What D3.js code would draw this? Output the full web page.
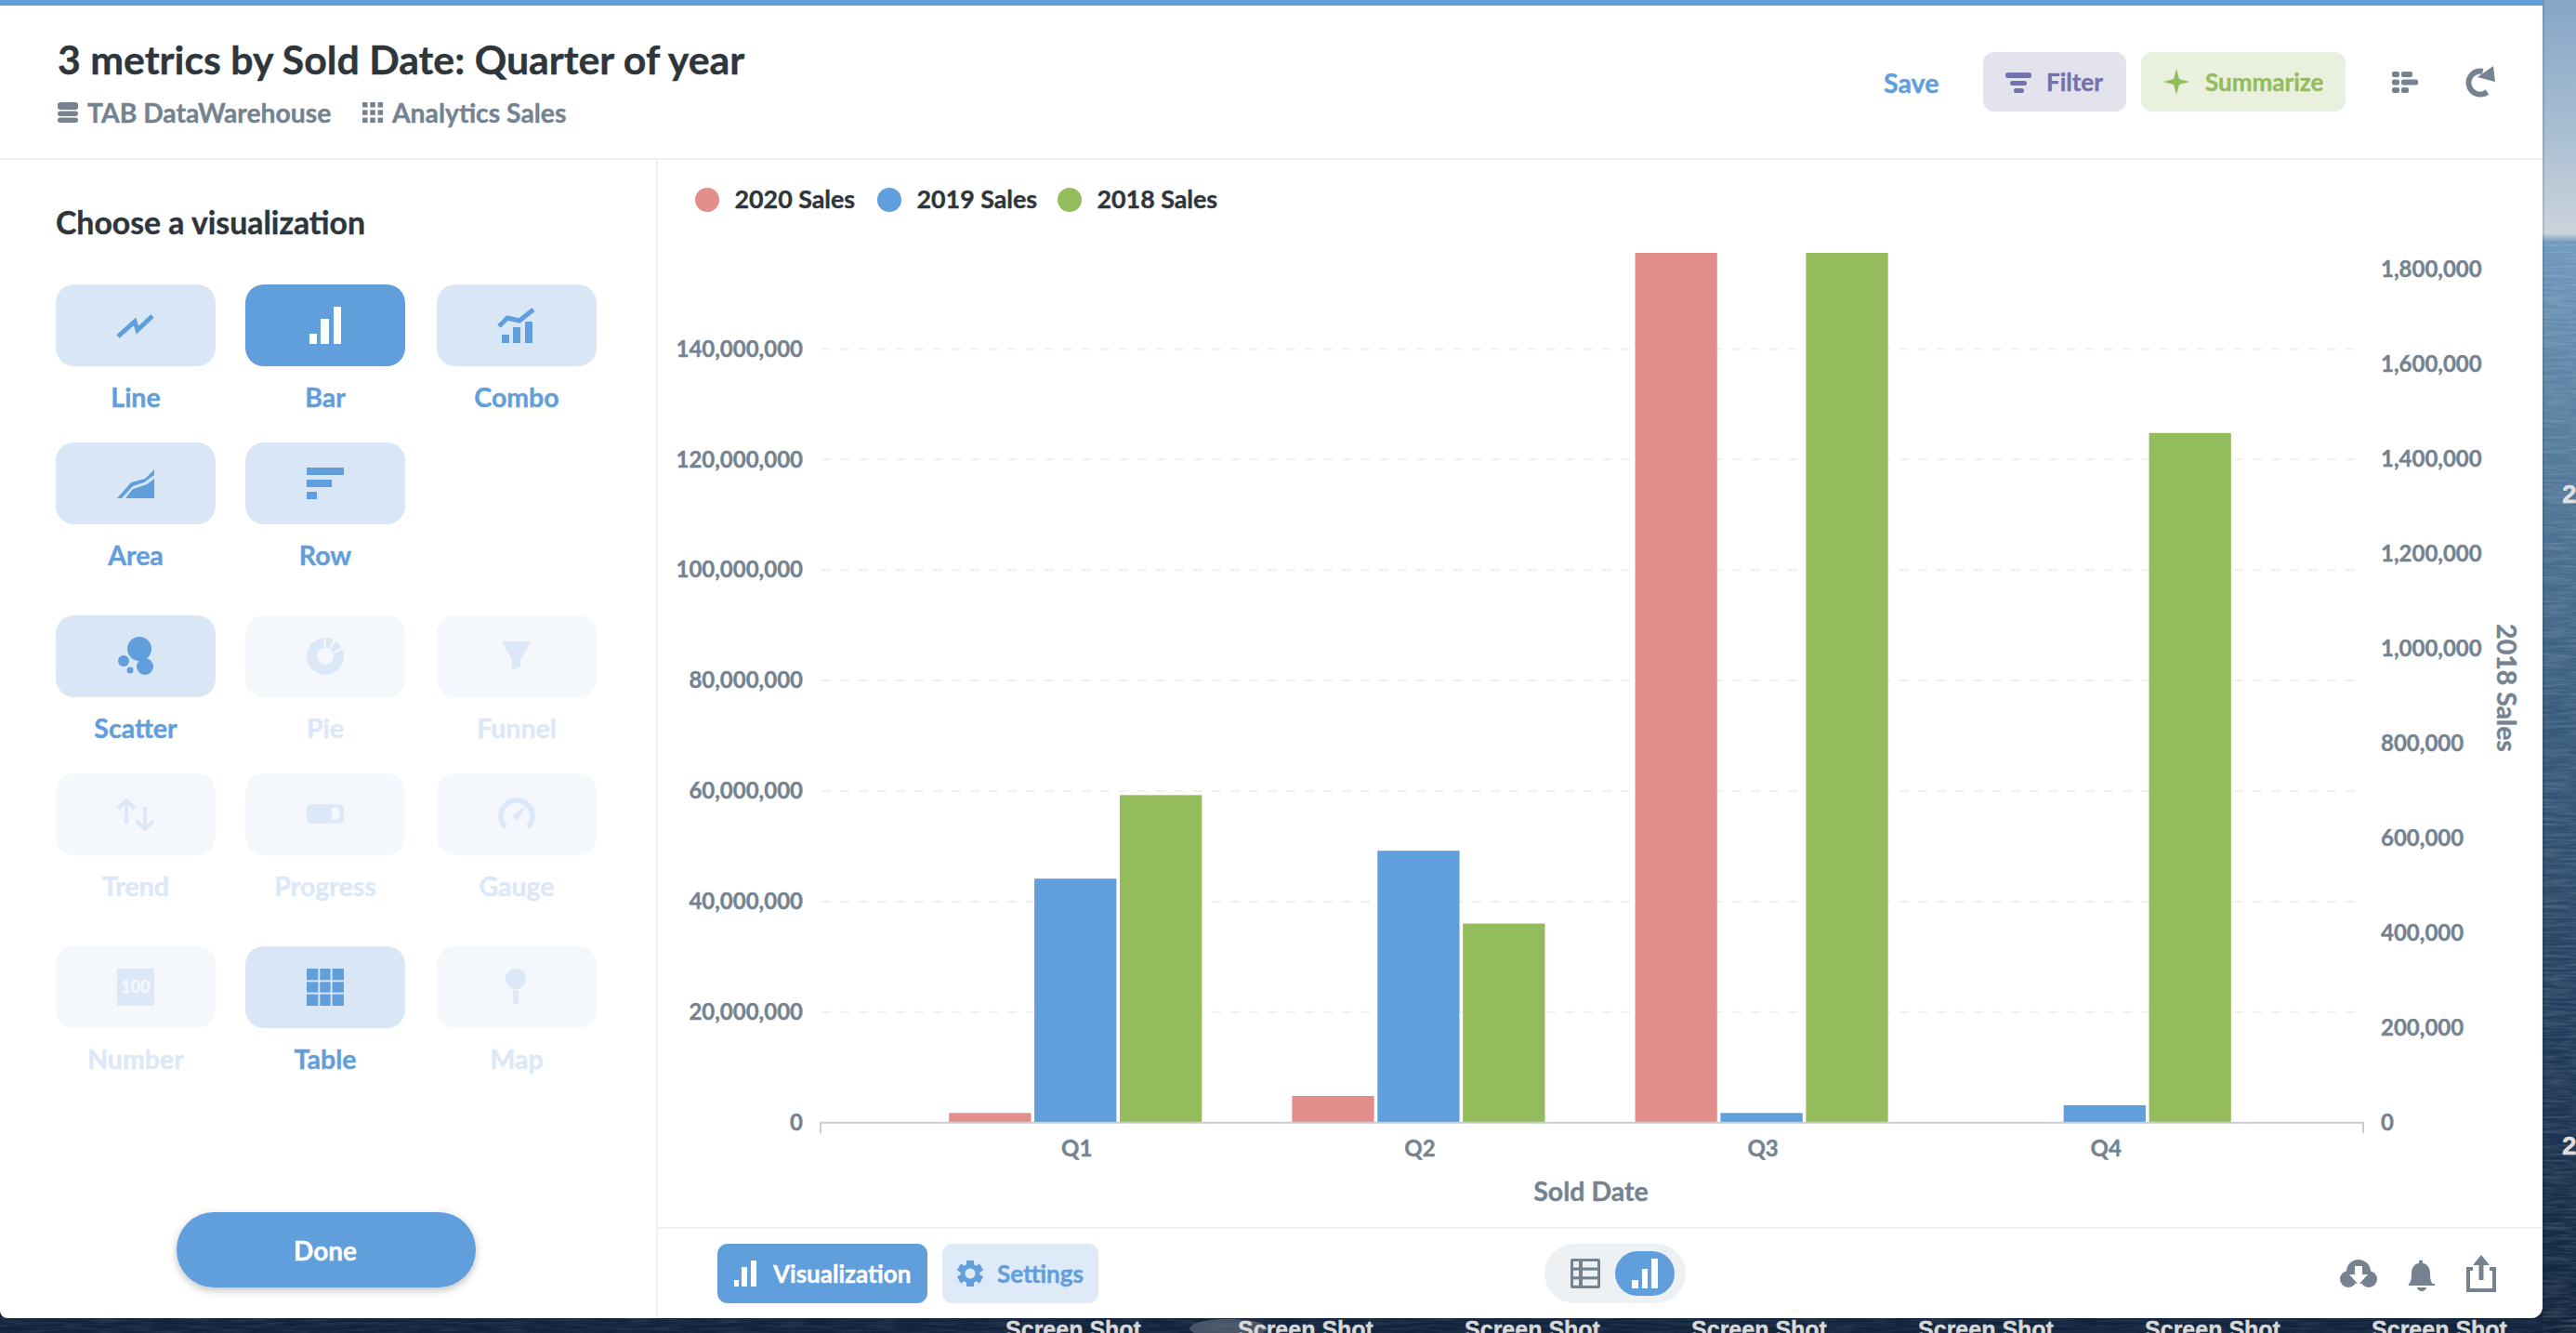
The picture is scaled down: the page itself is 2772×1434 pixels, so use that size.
<!DOCTYPE html>
<html>
<head>
<meta charset="utf-8">
<script src="https://cdn.jsdelivr.net/npm/d3@7"></script>
<style>
html, body { margin: 0; padding: 0; background: #13263c; overflow: hidden; }
svg { display: block; }
text { font-family: Lato, "Noto Sans", sans-serif; font-weight: 700; }
</style>
</head>
<body>
<div class="chart"></div>
<script>
// chart values
var quarters = ["Q1", "Q2", "Q3", "Q4"];
var seriesNames = ["2020 Sales", "2019 Sales", "2018 Sales"];
var sales2020 = [1750000, 4830000, 157400000, 0];
var sales2019 = [44150000, 49200000, 1750000, 3150000];
var sales2018 = [691000, 420000, 1835000, 1455000];
var leftTicks = [0, 20000000, 40000000, 60000000, 80000000, 100000000, 120000000, 140000000];
var rightTicks = [0, 200000, 400000, 600000, 800000, 1000000, 1200000, 1400000, 1600000, 1800000];

// sidebar labels
var vizRows = [["Line", "Bar", "Combo"], ["Area", "Row"], ["Scatter", "Pie", "Funnel"], ["Trend", "Progress", "Gauge"], ["Number", "Table", "Map"]];
var vizOff = ["Pie", "Funnel", "Trend", "Progress", "Gauge", "Number", "Map"];
var desktopLabels = ["Screen Shot", "Screen Shot", "Screen Shot", "Screen Shot", "Screen Shot", "Screen Shot", "Screen Shot"];

var blue = "#619edc", red = "#e28f8c", green = "#94bc5d", grey = "#74838f", ink = "#2e353b", pale = "#d9e6f6", faint = "#f4f8fd", faintIcon = "#dce8f7";

var svg = d3.select(".chart").append("svg").attr("width", 2772).attr("height", 1434);
var defs = svg.append("defs");

// desktop wallpaper behind the window
var sky = defs.append("linearGradient").attr("id", "sea").attr("x1", 0).attr("x2", 0).attr("y1", 0).attr("y2", 1);
[[0, "#86a6c8"], [0.1, "#a9bed2"], [0.175, "#ccd4dc"], [0.182, "#7099bc"], [0.3, "#5a80a2"], [0.55, "#375a7c"], [0.8, "#1f3958"], [1, "#10233b"]]
  .forEach(function(s){ sky.append("stop").attr("offset", s[0]).attr("stop-color", s[1]); });
var ripple = defs.append("filter").attr("id", "ripple").attr("x", 0).attr("y", 0).attr("width", 1).attr("height", 1);
ripple.append("feTurbulence").attr("type", "fractalNoise").attr("baseFrequency", "0.03 0.35").attr("numOctaves", 3).attr("seed", 4);
ripple.append("feColorMatrix").attr("values", "0 0 0 0 1  0 0 0 0 1  0 0 0 0 1  0.9 0 0 0 -0.32");
svg.append("rect").attr("width", 2772).attr("height", 1434).attr("fill", "url(#sea)");
svg.append("rect").attr("x", 2736).attr("y", 262).attr("width", 36).attr("height", 1172).attr("filter", "url(#ripple)").attr("opacity", 0.35);
svg.append("rect").attr("x", 0).attr("y", 1416).attr("width", 2772).attr("height", 18).attr("filter", "url(#ripple)").attr("opacity", 0.2);
svg.append("ellipse").attr("cx", 1322).attr("cy", 1429).attr("rx", 42).attr("ry", 10).attr("fill", "#8b9198").attr("opacity", 0.45);

function label(parent, x, y, s, size, fill, anchor) {
  return parent.append("text").attr("x", x).attr("y", y).attr("dy", "0.35em")
    .attr("font-size", size).attr("fill", fill).attr("text-anchor", anchor || "start").text(s);
}

svg.append("g").selectAll("text").data(desktopLabels).enter().append("text")
  .attr("x", function(d, i){ return i == 0 ? 1155 : 1405 + (i - 1) * 244; })
  .attr("y", 1439).attr("text-anchor", "middle").attr("font-size", 25).attr("fill", "#d8d8d8")
  .style("font-family", "'Liberation Sans'").text(function(d){ return d; });
label(svg, 2757, 531, "2", 28, "#e0e0e0").style("font-family", "'Liberation Sans'");
label(svg, 2757, 1232, "2", 28, "#e0e0e0").style("font-family", "'Liberation Sans'");

// window
svg.append("path").attr("d", "M0,0H2736V1406A12,12 0 0 1 2724,1418H8A8,8 0 0 1 0,1410Z").attr("fill", "#fff");
svg.append("rect").attr("x", 2736).attr("width", 2).attr("height", 1406).attr("fill", "#000").attr("opacity", 0.12);
svg.append("rect").attr("width", 2736).attr("height", 6).attr("fill", blue);
svg.append("rect").attr("y", 170).attr("width", 2736).attr("height", 2).attr("fill", "#f0f0f0");
svg.append("rect").attr("x", 706).attr("y", 171).attr("width", 2).attr("height", 1247).attr("fill", "#f0f0f0");
svg.append("rect").attr("x", 707).attr("y", 1320).attr("width", 2029).attr("height", 2).attr("fill", "#f0f0f0");

// header
label(svg, 62, 65, "3 metrics by Sold Date: Quarter of year", 42.8, ink);
label(svg, 94, 122, "TAB DataWarehouse", 28.3, grey);
label(svg, 422, 122, "Analytics Sales", 28.3, grey);
var dbIcon = svg.append("g").attr("fill", grey);
[[110, 8], [119.5, 5.5], [126.5, 5.5]].forEach(function(r){
  dbIcon.append("rect").attr("x", 62).attr("y", r[0]).attr("width", 22).attr("height", r[1]).attr("rx", 3);
});
d3.range(9).forEach(function(i){
  dbIcon.append("rect").attr("x", 390 + (i % 3) * 8.3).attr("y", 110 + Math.floor(i / 3) * 8.3).attr("width", 5.5).attr("height", 5.5);
});

label(svg, 2027, 90, "Save", 28.5, blue);
svg.append("rect").attr("x", 2134).attr("y", 56).attr("width", 154).attr("height", 64).attr("rx", 12).attr("fill", "#e3e3ed");
label(svg, 2202, 89, "Filter", 26, "#7172ad");
[[2158, 78, 28, 6], [2163, 87, 18, 5], [2167, 95, 11, 5]].forEach(function(r){
  svg.append("rect").attr("x", r[0]).attr("y", r[1]).attr("width", r[2]).attr("height", r[3]).attr("rx", 2.5).attr("fill", "#7172ad");
});
svg.append("rect").attr("x", 2304).attr("y", 56).attr("width", 220).attr("height", 64).attr("rx", 12).attr("fill", "#e9f1de");
label(svg, 2373, 89, "Summarize", 26, green);
svg.append("path").attr("d", "M2342,74L2345,85L2356,88L2345,91L2342,102L2339,91L2328,88L2339,85Z").attr("fill", green);
[[2574, 77, 8, 6], [2584, 77, 12, 6], [2574, 85.5, 8, 6], [2584, 85.5, 18, 6], [2574, 94, 8, 6], [2584, 94, 8, 6]].forEach(function(r){
  svg.append("rect").attr("x", r[0]).attr("y", r[1]).attr("width", r[2]).attr("height", r[3]).attr("rx", 2).attr("fill", grey);
});
var refresh = d3.arc()({innerRadius: 9.5, outerRadius: 15.5, startAngle: 2.5, endAngle: 6.5});
svg.append("path").attr("transform", "translate(2669,89)").attr("d", refresh).attr("fill", grey);
svg.append("path").attr("d", "M2683,71L2685,88L2666,83Z").attr("fill", grey);

// visualization picker
label(svg, 60, 240, "Choose a visualization", 33.8, ink);
var tileX = d3.scalePoint().domain([0, 1, 2]).range([60, 470]);
var tileY = [306, 476, 662, 832, 1018];
var tileH = 88;
vizRows.forEach(function(row, r){
  row.forEach(function(name, c){
    var off = vizOff.indexOf(name) >= 0;
    svg.append("rect").attr("x", c == 1 ? 264 : tileX(c)).attr("y", tileY[r]).attr("width", 172).attr("height", tileH).attr("rx", 20)
      .attr("fill", name == "Bar" ? blue : off ? faint : pale);
    label(svg, (c == 1 ? 264 : tileX(c)) + 86, tileY[r] + 122, name, 28.5, off ? faintIcon : blue, "middle");
  });
});

var icons = svg.append("g");
function poly(pts, fill) { return icons.append("polygon").attr("points", pts).attr("fill", fill || blue); }
function line(pts, color, w) { return icons.append("polyline").attr("points", pts).attr("fill", "none").attr("stroke", color || blue).attr("stroke-width", w || 5); }
function box(x, y, w, h, fill) { return icons.append("rect").attr("x", x).attr("y", y).attr("width", w).attr("height", h).attr("fill", fill || blue); }
function dot(x, y, r, fill) { return icons.append("circle").attr("cx", x).attr("cy", y).attr("r", r).attr("fill", fill || blue); }

line("127,362 145,346 148,355 164,340");
box(333, 359, 8, 11, "#fff"); box(345, 343, 9, 27, "#fff"); box(359, 330, 8, 40, "#fff");
line("537,351 546,342 559,345 574,333");
box(540, 360, 8, 9); box(552, 352, 8, 17); box(565, 346, 8, 23);
poly("126,536 141,519 156,515 166,505 166,511 155,519 143,523 131,536");
poly("135,536 143,526 158,521 166,515 166,536");
box(330, 503, 40, 8); box(330, 516, 27, 8); box(330, 529, 11, 8);
dot(150, 698, 13); dot(156, 717, 9); dot(133, 711, 6); dot(140, 721, 3.5);
icons.append("path").attr("transform", "translate(350,706)").attr("fill", faintIcon)
  .attr("d", d3.arc()({innerRadius: 9, outerRadius: 20, startAngle: 1.2, endAngle: 2 * Math.PI - 0.1}));
icons.append("path").attr("transform", "translate(350,706)").attr("fill", faintIcon)
  .attr("d", d3.arc()({innerRadius: 9, outerRadius: 20, startAngle: 0.05, endAngle: 0.45}));
icons.append("path").attr("transform", "translate(350,706)").attr("fill", faintIcon)
  .attr("d", d3.arc()({innerRadius: 9, outerRadius: 20, startAngle: 0.6, endAngle: 1.05}));
poly("540,690 572,690 560,710 560,717 551,722 551,710", faintIcon);
line("127,870 136,861 145,870", faintIcon, 4); line("136,861 136,886", faintIcon, 4);
line("147,883 156,892 165,883", faintIcon, 4); line("156,868 156,892", faintIcon, 4);
icons.append("rect").attr("x", 330).attr("y", 865).attr("width", 40).attr("height", 21).attr("rx", 5).attr("fill", faintIcon);
icons.append("path").attr("d", "M357,869h4a5,6 0 0 1 5,6v1a5,6 0 0 1 -5,6h-4Z").attr("fill", faint);
icons.append("path").attr("transform", "translate(556,878)").attr("fill", faintIcon)
  .attr("d", d3.arc()({innerRadius: 14, outerRadius: 20, startAngle: -2.35, endAngle: 2.35}));
poly("551,878 566,866 557,883", faintIcon);
box(126, 1042, 40, 40, faintIcon);
box(330, 1042, 40, 40);
[1, 2].forEach(function(i){
  box(330 + i * 13.3 - 1, 1042, 2, 40, pale); box(330, 1042 + i * 13.3 - 1, 40, 2, pale);
});
dot(555, 1053, 11, faintIcon);
poly("552,1065 558,1065 558,1078 555,1082 552,1078", faintIcon);

// done button
var shadow = defs.append("filter").attr("id", "lift").attr("x", "-10%").attr("y", "-20%").attr("width", "120%").attr("height", "150%");
shadow.append("feDropShadow").attr("dx", 0).attr("dy", 3).attr("stdDeviation", 4).attr("flood-color", "#000").attr("flood-opacity", 0.25);
svg.append("rect").attr("x", 190).attr("y", 1304).attr("width", 322).attr("height", 81).attr("rx", 40).attr("fill", blue).attr("filter", "url(#lift)");
label(svg, 350, 1346, "Done", 28, "#fff", "middle");

// the chart: bars on two y axes
var x0 = d3.scaleBand().domain(quarters).range([882, 2540]).paddingInner(0.263).paddingOuter(0.377);
var x1 = d3.scaleBand().domain(seriesNames).range([0, x0.bandwidth()]).paddingInner(0.04);
var yLeft = d3.scaleLinear().domain([0, 157400000]).range([1207.7, 272]);
var yRight = d3.scaleLinear().domain([0, 1835000]).range([1207.7, 272]);
var colors = d3.scaleOrdinal().domain(seriesNames).range([red, blue, green]);

// grid lines only follow the left axis
svg.append("g").selectAll("line").data(leftTicks.slice(1)).enter().append("line")
  .attr("x1", 884).attr("x2", 2535)
  .attr("y1", function(d){ return yLeft(d); }).attr("y2", function(d){ return yLeft(d); })
  .attr("stroke", "#f0f0f0").attr("stroke-width", 2).attr("stroke-dasharray", "10,10");

var seriesList = [
  {name: seriesNames[0], values: sales2020, y: yLeft},
  {name: seriesNames[1], values: sales2019, y: yLeft},
  {name: seriesNames[2], values: sales2018, y: yRight}
];
seriesList.forEach(function(s){
  svg.append("g").selectAll("rect").data(s.values).enter().append("rect")
    .attr("x", function(d, i){ return x0(quarters[i]) + x1(s.name); })
    .attr("width", x1.bandwidth())
    .attr("y", function(d){ return s.y(d); })
    .attr("height", function(d){ return s.y(0) - s.y(d); })
    .attr("fill", colors(s.name));
});

var fmt = d3.format(",");
var leftAxis = svg.append("g").attr("transform", "translate(883,0)")
  .call(d3.axisLeft(yLeft).tickValues(leftTicks).tickFormat(fmt).tickSize(0).tickPadding(19));
var rightAxis = svg.append("g").attr("transform", "translate(2543,0)")
  .call(d3.axisRight(yRight).tickValues(rightTicks).tickFormat(fmt).tickSize(0).tickPadding(19));
var bottomAxis = svg.append("g").attr("transform", "translate(1.5,1207.7)")
  .call(d3.axisBottom(x0).tickSize(0).tickPadding(19));
[leftAxis, rightAxis].forEach(function(a){ a.select(".domain").remove(); });
bottomAxis.select(".domain").attr("d", "M881.5,11.5V0H2541.5V11.5").attr("stroke", "#c7cdd2").attr("stroke-width", 2).attr("fill", "none");
[leftAxis, rightAxis, bottomAxis].forEach(function(a){
  a.selectAll("text").attr("font-size", 24).attr("fill", grey).style("font-family", "Lato").style("font-weight", 700);
});

label(svg, 1712, 1282, "Sold Date", 28.5, grey, "middle");
label(svg, 0, 0, "2018 Sales", 28.5, grey, "middle").attr("transform", "translate(2697,740) rotate(90)");

// footer tabs
svg.append("rect").attr("x", 772).attr("y", 1338).attr("width", 226).attr("height", 64).attr("rx", 11).attr("fill", blue);
label(svg, 832, 1371, "Visualization", 26, "#fff");
svg.append("rect").attr("x", 1014).attr("y", 1338).attr("width", 168).attr("height", 64).attr("rx", 11).attr("fill", "#deeaf7");
label(svg, 1073, 1371, "Settings", 26, blue);
var gear = svg.append("g").attr("transform", "translate(1044,1370)");
[0, 60, 120].forEach(function(a){
  gear.append("rect").attr("x", -4).attr("y", -14).attr("width", 8).attr("height", 28).attr("fill", blue).attr("transform", "rotate(" + a + ")");
});
gear.append("circle").attr("r", 10.5).attr("fill", blue);
gear.append("circle").attr("r", 5.5).attr("fill", "#deeaf7");

svg.append("rect").attr("x", 1662).attr("y", 1338).attr("width", 152).attr("height", 64).attr("rx", 32).attr("fill", "#eef1f4");
svg.append("rect").attr("x", 1738).attr("y", 1346).attr("width", 64).attr("height", 48).attr("rx", 24).attr("fill", blue);

// icons sit above the tiles and tabs
icons.raise();
box(790, 1377, 5, 7, "#fff"); box(798, 1363, 6, 21, "#fff"); box(808, 1356, 6, 28, "#fff");
icons.append("rect").attr("x", 1690).attr("y", 1354).attr("width", 32).attr("height", 32).attr("rx", 2).attr("fill", grey);
[0, 1, 2].forEach(function(i){
  box(1693, 1357 + i * 9.7, 6, 6.5, "#eef1f4"); box(1703, 1357 + i * 9.7, 16, 6.5, "#eef1f4");
});
box(1756, 1377, 7, 9, "#fff"); box(1767, 1365, 6, 21, "#fff"); box(1777, 1354, 7, 32, "#fff");
label(svg, 146, 1062, "100", 18, faint, "middle");

// legend
var legendX = [761, 957, 1151];
seriesNames.forEach(function(name, i){
  dot(legendX[i], 215, 13, colors(name));
  label(svg, legendX[i] + 29.5, 215, name, 26.8, ink);
});

// footer actions
var act = svg.append("g").attr("fill", grey);
act.append("circle").attr("cx", 2538).attr("cy", 1368).attr("r", 13);
act.append("circle").attr("cx", 2527).attr("cy", 1376).attr("r", 9);
act.append("circle").attr("cx", 2549).attr("cy", 1376).attr("r", 9);
act.append("path").attr("d", "M2534,1362h8v9h6l-10,11l-10,-11h6Z").attr("fill", "#fff");
act.append("path").attr("d", "M2592,1382c3,-2 4,-5 4,-12c0,-7 4,-11 8,-11v-3h4v3c4,0 8,4 8,11c0,7 1,10 4,12Z").attr("transform", "translate(-1,0)");
act.append("rect").attr("x", 2592).attr("y", 1381).attr("width", 28).attr("height", 2);
act.append("path").attr("d", "M2601,1385h10a5,4 0 0 1 -10,0Z");
act.append("path").attr("d", "M2661,1365h-5v23h28v-23h-5").attr("fill", "none").attr("stroke", grey).attr("stroke-width", 4);
act.append("path").attr("d", "M2670,1350l9,11h-6.5v16h-5v-16h-6.5Z");

// the screenshot's text renders heavier than plain bold
svg.selectAll("text").each(function(){
  var t = d3.select(this);
  t.attr("stroke", t.attr("fill")).attr("stroke-width", 0.4);
});
</script>
</body>
</html>
